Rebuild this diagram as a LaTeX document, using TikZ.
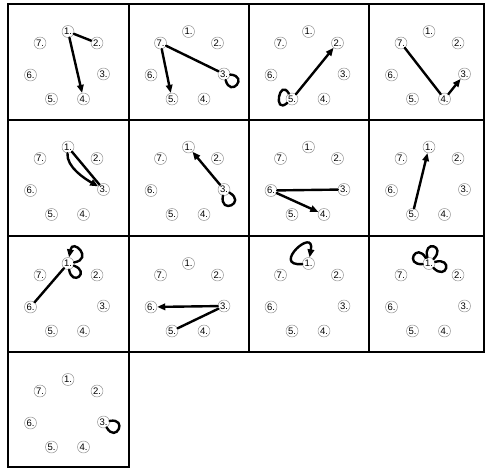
\documentclass[tikz,border=0pt]{standalone}
\usepackage{fontspec}
\setmainfont{Liberation Sans}
\usetikzlibrary{arrows.meta}
\tikzset{
  vert/.style={circle,draw=black!45,line width=0.45pt,inner sep=0pt,minimum size=12pt,font=\fontsize{9.5}{9.5}\selectfont},
  edge/.style={line width=2.4pt,line cap=round},
  arr/.style={edge,-{Triangle[length=8pt,width=6.5pt]}},
  frame/.style={line width=2pt},
}
\newcommand{\heptnodes}[3]{%
  \foreach \i/\dx/\dy in {1/60/27.5,2/89/39,3/95.5/70,4/75.5/95,5/43.5/95,6/22.5/71,7/32/39}
    \node[vert] (#1\i) at ({#2+\dx},{-(#3+\dy)}) {\i.};}
\newcommand{\selfloop}[5][edge]{\draw[#1] (#2.#3) .. controls +(#3:#5) and +(#4:#5) .. (#2.#4);}
\begin{document}
\begin{tikzpicture}[x=1pt,y=1pt]
\useasboundingbox (0,0) rectangle (485,-469);
% grid
\draw[frame] (8,-4) rectangle (484,-352);
\draw[frame] (128.5,-4) -- (128.5,-352);
\draw[frame] (248.5,-4) -- (248.5,-352);
\draw[frame] (369,-4) -- (369,-352);
\draw[frame] (8,-119.5) -- (484,-119.5);
\draw[frame] (8,-236) -- (484,-236);
\draw[frame] (8,-352) rectangle (128.5,-466.5);
% A
\heptnodes{a}{8}{4}
\draw[edge] (a1) -- (a2);
\draw[arr] (a1) -- (a4);
% B
\heptnodes{b}{128.5}{4}
\draw[edge] (b7) -- (b3);
\draw[arr] (b7) -- (b5);
\selfloop{b3}{-5}{-75}{19}
% C
\heptnodes{c}{248.5}{4}
\selfloop{c5}{120}{220}{19}
\draw[arr] (c5) -- (c2);
% D
\heptnodes{d}{369}{4}
\draw[edge] (d7) -- (d4);
\draw[arr] (d4) -- (d3);
% E
\heptnodes{e}{8}{119.5}
\draw[edge] (e1) -- (e3);
\draw[arr] (e1) to[out=-95,in=150,looseness=0.8] (e3);
% F
\heptnodes{f}{128.5}{119.5}
\draw[arr] (f3) -- (f1);
\selfloop{f3}{-30}{-100}{20}
% G
\heptnodes{g}{248.5}{119.5}
\draw[edge] (g6) -- (g3);
\draw[arr] (g6) -- (g4);
% H
\heptnodes{h}{369}{119.5}
\draw[arr] (h5) -- (h1);
% I
\heptnodes{i}{8}{236}
\draw[edge] (i6) -- (i1);
\selfloop[arr]{i1}{10}{80}{20}
\selfloop{i1}{-20}{-80}{18}
% J
\heptnodes{j}{128.5}{236}
\draw[arr] (j3) -- (j6);
\draw[edge] (j5) -- (j3);
% K
\heptnodes{k}{248.5}{236}
\selfloop[arr]{k1}{185}{80}{32}
% L
\heptnodes{l}{369}{236}
\selfloop{l1}{185}{120}{19}
\selfloop{l1}{105}{45}{19}
\selfloop{l1}{15}{-45}{19}
% M
\heptnodes{m}{8}{352}
\selfloop{m3}{10}{-60}{19}
\end{tikzpicture}
\end{document}
